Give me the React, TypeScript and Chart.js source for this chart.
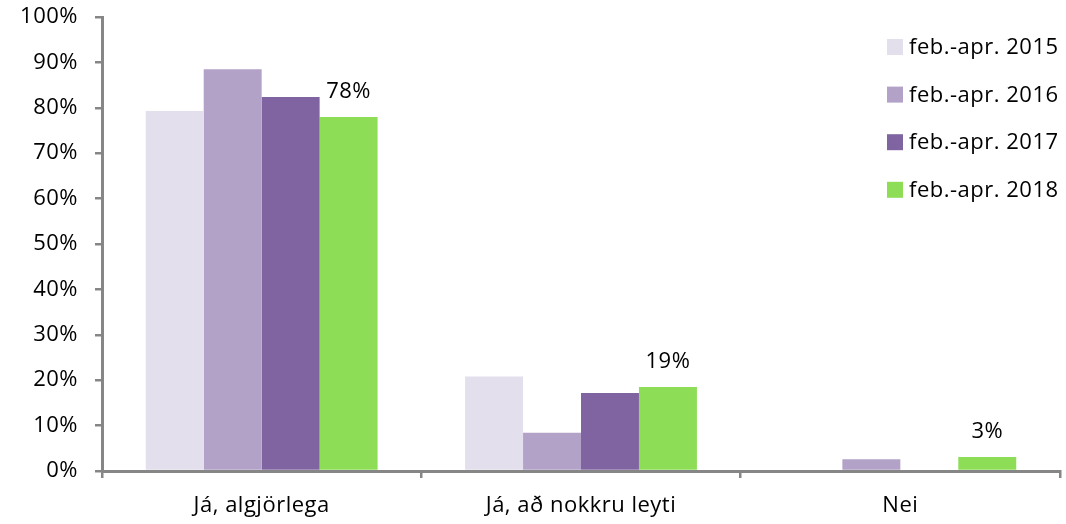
import React, { useEffect, useRef } from "react";
import { Chart, registerables } from "chart.js";

Chart.register(...registerables);

const categories = ["Já, algjörlega", "Já, að nokkru leyti", "Nei"];
const seriesLabels = ["feb.-apr. 2015", "feb.-apr. 2016", "feb.-apr. 2017", "feb.-apr. 2018"];
const values2015 = [79.3, 20.8, null];
const values2016 = [88.5, 8.4, 2.6];
const values2017 = [82.4, 17.2, null];
const values2018 = [78.0, 18.5, 3.1];
const seriesColors = ["#e4dfec", "#b2a2c7", "#8064a2", "#8ddd57"];
const yTicks = [0, 10, 20, 30, 40, 50, 60, 70, 80, 90, 100];

const FONT = "'Open Sans', Lato, sans-serif";
const FS = 22;
const AXIS = "#868686";

const spacingPlugin = {
  id: "spacing",
  beforeInit(chart: any) {
    chart.ctx.letterSpacing = "0.5px";
  },
  beforeDraw(chart: any) {
    chart.ctx.letterSpacing = "0.5px";
  },
};

const labelPlugin = {
  id: "barLabels",
  afterDatasetsDraw(chart: any) {
    const ctx = chart.ctx;
    const meta = chart.getDatasetMeta(3);
    const data = chart.data.datasets[3].data;
    ctx.save();
    ctx.font = `${FS}px ${FONT}`;
    ctx.fillStyle = "#000";
    ctx.textAlign = "center";
    ctx.textBaseline = "alphabetic";
    meta.data.forEach((el: any, i: number) => {
      const v = data[i];
      if (v == null) return;
      ctx.fillText(Math.round(v) + "%", el.x, el.y - 19);
    });
    ctx.restore();
  },
};

const legendPlugin = {
  id: "customLegend",
  afterDraw(chart: any) {
    const ctx = chart.ctx;
    ctx.save();
    ctx.font = `${FS}px ${FONT}`;
    ctx.textAlign = "left";
    ctx.textBaseline = "middle";
    chart.data.datasets.forEach((ds: any, i: number) => {
      const yc = 47 + i * 47.6;
      ctx.fillStyle = ds.backgroundColor;
      ctx.fillRect(887, yc - 8, 16, 16);
      ctx.fillStyle = "#000";
      ctx.fillText(ds.label, 909, yc + 1);
    });
    ctx.restore();
  },
};

export default function App() {
  const ref = useRef<HTMLCanvasElement>(null);
  useEffect(() => {
    const allValues = [values2015, values2016, values2017, values2018];
    const chart = new Chart(ref.current as HTMLCanvasElement, {
      type: "bar",
      data: {
        labels: categories,
        datasets: allValues.map((vals, i) => ({
          label: seriesLabels[i],
          data: vals as any,
          backgroundColor: seriesColors[i],
          borderWidth: 0,
          categoryPercentage: 0.726,
          barPercentage: 1,
        })),
      },
      options: {
        animation: false,
        responsive: true,
        maintainAspectRatio: false,
        layout: { padding: { left: 0, right: 6, top: 17, bottom: 0 } },
        plugins: { legend: { display: false }, tooltip: { enabled: false } },
        scales: {
          x: {
            grid: { offset: true, drawOnChartArea: false, drawTicks: true, tickLength: 7, color: AXIS, lineWidth: 2.5 },
            border: { color: AXIS, width: 3 },
            ticks: { color: "#000", font: { family: FONT, size: FS }, padding: 15 },
            afterFit: (s: any) => { s.height = 53; s.paddingLeft = 0; s.paddingRight = 0; },
          },
          y: {
            min: 0,
            max: 100,
            afterBuildTicks: (s: any) => { s.ticks = yTicks.map((v) => ({ value: v })); },
            grid: { drawOnChartArea: false, drawTicks: true, tickLength: 7, color: AXIS, lineWidth: 2.5 },
            border: { color: AXIS, width: 3 },
            ticks: { color: "#000", font: { family: FONT, size: FS }, padding: 17, callback: (v: any) => v + "%" },
            afterFit: (s: any) => { s.width = 102; s.paddingTop = 0; s.paddingBottom = 0; },
          },
        },
      },
      plugins: [spacingPlugin, labelPlugin, legendPlugin],
    });
    return () => chart.destroy();
  }, []);
  return (
    <div style={{ position: "fixed", left: 0, top: 0, width: 1066, height: 524, background: "#fff" }}>
      <canvas ref={ref} />
    </div>
  );
}
